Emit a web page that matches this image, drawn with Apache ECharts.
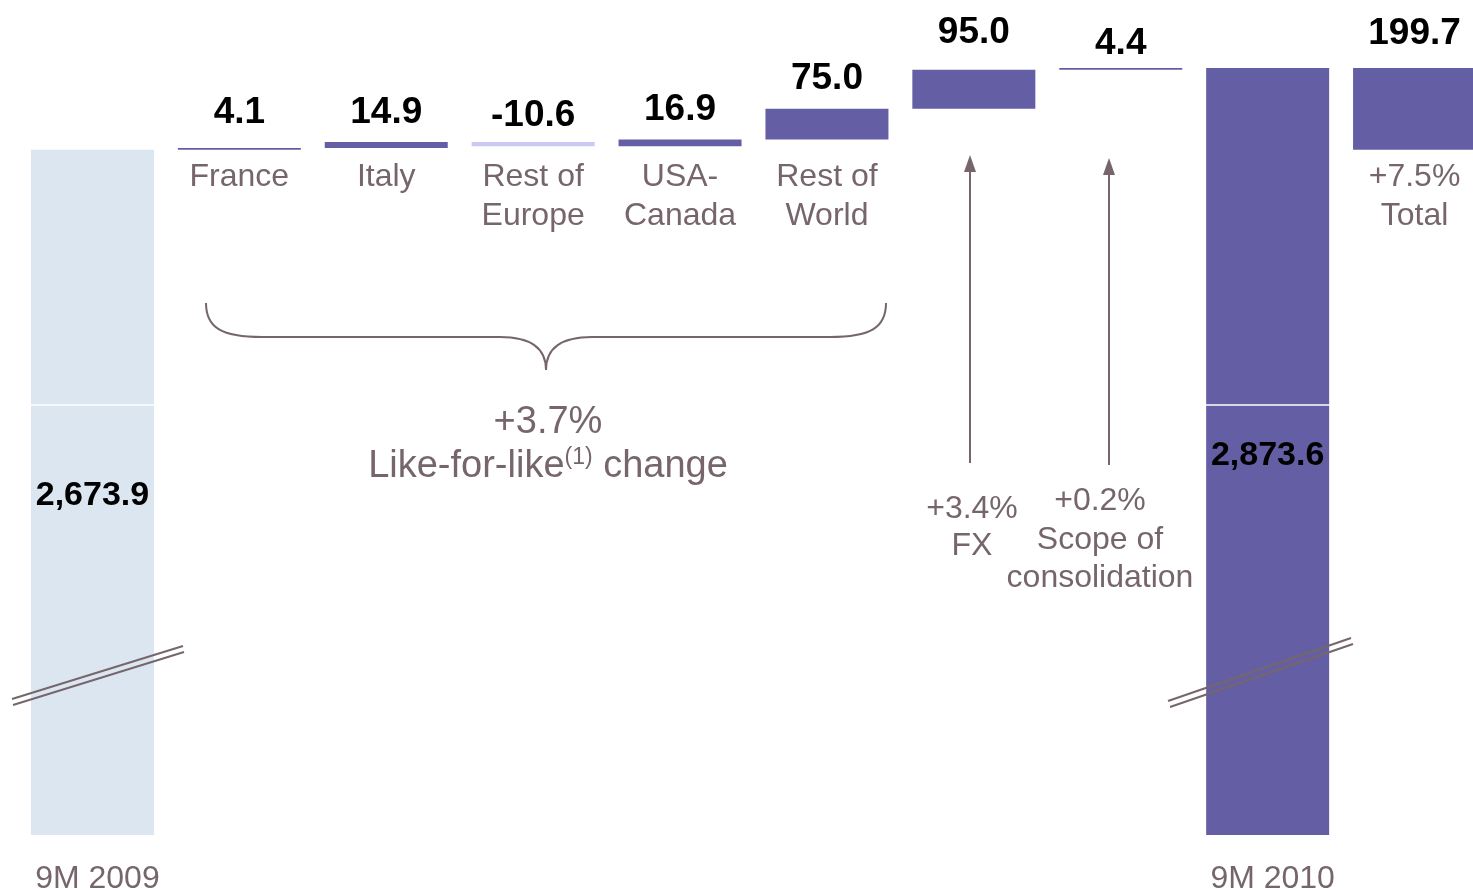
<!DOCTYPE html>
<html>
<head>
<meta charset="utf-8">
<style>
  html, body { margin: 0; padding: 0; background: #fff; }
  #chart { width: 1473px; height: 890px; }
</style>
<script src="https://cdn.jsdelivr.net/npm/echarts@6/dist/echarts.min.js"></script>
</head>
<body>
<div id="chart"></div>
<script>
// 数据
const categories = ['9M 2009', 'France', 'Italy', 'Rest of Europe', 'USA-Canada', 'Rest of World', 'FX', 'Scope of consolidation', '9M 2010', 'Total'];
const startValue = 2673.9;
const endValue = 2873.6;
const stepValues = [4.1, 14.9, -10.6, 16.9, 75.0, 95.0, 4.4];
const totalChange = 199.7;
const bottomLabels = ['9M 2009', '', '', '', '', '', '', '', '9M 2010', ''];
const barLabels = ['', 'France', 'Italy', 'Rest of\nEurope', 'USA-\nCanada', 'Rest of\nWorld', '', '', '', '+7.5%\nTotal'];
const lflChange = '+3.7%';
const fxChange = '+3.4%';
const scopeChange = '+0.2%';

// 样式
const purple = '#645fa5';
const lightBlue = '#dce6f0';
const lavender = '#c9c9f3';
const mauve = '#76666c';
const fontFamily = '"Liberation Sans", Arial, sans-serif';
const labelGap = [0, 17, 11, 8, 11, 11, 19, 6, 0, 16];

// 瀑布图：透明底座 + 可见部分
const baseData = [0];
const barData = [startValue];
const labelValues = [startValue];
let running = startValue;
stepValues.forEach(d => {
  baseData.push(d >= 0 ? running : running + d);
  barData.push(Math.abs(d));
  labelValues.push(d);
  running += d;
});
baseData.push(0); barData.push(endValue); labelValues.push(endValue);
baseData.push(startValue); barData.push(totalChange); labelValues.push(totalChange);

const fmt = v => v.toLocaleString('en-US', { minimumFractionDigits: 1, maximumFractionDigits: 1 });

const visibleData = barData.map((v, i) => {
  let color = purple;
  if (i === 0) color = lightBlue;
  else if (labelValues[i] < 0 && i < categories.length - 2) color = lavender;
  const item = { value: v, itemStyle: { color } };
  if (i === 0) item.label = { position: ['50%', 346], align: 'center', verticalAlign: 'middle', fontSize: 34 };
  else if (i === 8) item.label = { position: ['50%', 388], align: 'center', verticalAlign: 'middle', fontSize: 34 };
  else item.label = { position: 'top', distance: labelGap[i] };
  return item;
});

const line = (x1, y1, x2, y2) => ({ type: 'line', silent: true, z: 100, shape: { x1, y1, x2, y2 }, style: { stroke: mauve, lineWidth: 2 } });
const curve = (x1, y1, cpx1, cpy1, cpx2, cpy2, x2, y2) => ({
  type: 'bezierCurve', silent: true, z: 100,
  shape: { x1, y1, cpx1, cpy1, cpx2, cpy2, x2, y2 },
  style: { stroke: mauve, lineWidth: 2, fill: null }
});
const text = (x, y, str, size) => ({
  type: 'text', x, y, silent: true, z: 100,
  style: { text: str, fill: mauve, fontSize: size || 32, fontFamily, align: 'center', verticalAlign: 'middle' }
});

const chart = echarts.init(document.getElementById('chart'));

const option = {
  animation: false,
  backgroundColor: '#fff',
  grid: { left: 19, top: 68, width: 1469, height: 767, containLabel: false, outerBoundsMode: 'none' },
  xAxis: [
    {
      type: 'category',
      data: categories,
      axisLine: { show: false },
      axisTick: { show: false },
      axisLabel: {
        interval: 0, margin: 28, color: mauve, fontSize: 32, fontFamily, padding: [0, 0, 0, 10],
        formatter: (v, i) => bottomLabels[i]
      }
    },
    {
      type: 'category',
      data: categories,
      position: 'bottom',
      offset: -685,
      axisLine: { show: false },
      axisTick: { show: false },
      axisLabel: {
        interval: 0, margin: 8, color: mauve, fontSize: 32, lineHeight: 39, fontFamily,
        formatter: (v, i) => barLabels[i]
      }
    }
  ],
  yAxis: { type: 'value', show: false, min: 1000, max: endValue, splitLine: { show: false } },
  series: [
    {
      type: 'bar',
      stack: 'wf',
      barWidth: 123,
      silent: true,
      itemStyle: { color: 'transparent' },
      data: baseData
    },
    {
      type: 'bar',
      stack: 'wf',
      barWidth: 123,
      data: visibleData,
      label: {
        show: true,
        color: '#000',
        fontSize: 37,
        fontWeight: 'bold',
        fontFamily,
        formatter: p => fmt(labelValues[p.dataIndex])
      },
      markLine: {
        silent: true,
        symbol: 'none',
        z: 3,
        label: { show: false },
        lineStyle: { color: '#fff', width: 1.5, type: 'solid' },
        data: [{ yAxis: 2052 }]
      }
    }
  ],
  graphic: [
    // 括号
    curve(206, 303, 206, 328, 222, 337, 262, 337),
    line(262, 337, 500, 337),
    curve(500, 337, 530, 337, 546, 348, 546, 370),
    curve(546, 370, 546, 348, 562, 337, 592, 337),
    line(592, 337, 830, 337),
    curve(830, 337, 870, 337, 886, 328, 886, 303),
    text(548, 423, lflChange, 38),
    {
      type: 'text', x: 548, y: 467, silent: true, z: 100,
      style: {
        text: 'Like-for-like{sup|(1)} change', fill: mauve, fontSize: 38, fontFamily, align: 'center', verticalAlign: 'middle',
        rich: { sup: { fontSize: 23, fill: mauve, fontFamily, verticalAlign: 'top', lineHeight: 42 } }
      }
    },
    // 箭头
    line(970, 463, 970, 168),
    { type: 'polygon', silent: true, z: 100, shape: { points: [[970, 155], [964, 172], [976, 172]] }, style: { fill: mauve } },
    line(1109, 465, 1109, 171),
    { type: 'polygon', silent: true, z: 100, shape: { points: [[1109, 158], [1103, 175], [1115, 175]] }, style: { fill: mauve } },
    text(972, 509, fxChange),
    text(972, 546, 'FX'),
    text(1100, 501, scopeChange),
    text(1100, 540, 'Scope of'),
    text(1100, 578, 'consolidation'),
    // 断轴标记
    line(12, 699, 183, 646),
    line(13, 705, 184, 652),
    line(1168, 701, 1351, 638),
    line(1170, 707, 1353, 644)
  ]
};

chart.setOption(option);
window.addEventListener('resize', () => chart.resize());
</script>
</body>
</html>
